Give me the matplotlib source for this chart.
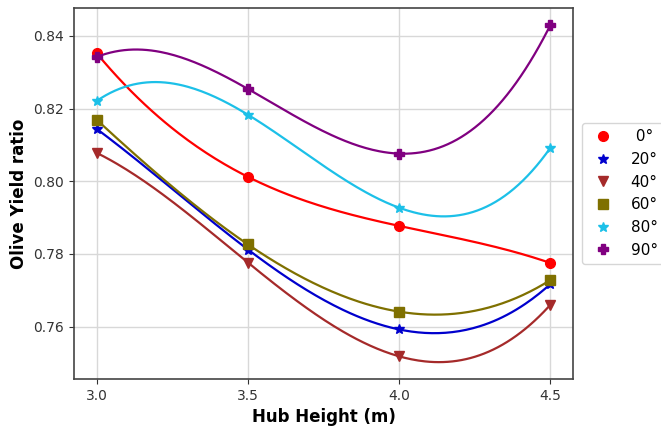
import matplotlib
matplotlib.use('Agg')
import matplotlib.pyplot as plt
import numpy as np

# hub heights (m)
heights = [3.0, 3.5, 4.0, 4.5]

# olive yield ratio per panel tilt angle
yield_0 = [0.8352, 0.8012, 0.7877, 0.7775]
yield_20 = [0.8144, 0.7812, 0.7592, 0.7717]
yield_40 = [0.8078, 0.7776, 0.7518, 0.7660]
yield_60 = [0.8169, 0.7826, 0.7641, 0.7728]
yield_80 = [0.8221, 0.8183, 0.7927, 0.8092]
yield_90 = [0.8342, 0.8254, 0.8076, 0.8430]

labels = [' 0°', '20°', '40°', '60°', '80°', '90°']
series = [yield_0, yield_20, yield_40, yield_60, yield_80, yield_90]
colors = ['#ff0000', '#0000cd', '#a52a2a', '#7f7000', '#1cc0e8', '#800080']
markers = ['o', '*', 'v', 's', '*', 'P']


def smooth(x, y):
    """cubic through the points, like a k=3 spline on 4 knots"""
    coef = np.polyfit(x, y, len(x) - 1)
    xs = np.linspace(min(x), max(x), 200)
    return xs, np.polyval(coef, xs)


fig = plt.figure(figsize=(6.61, 4.28), dpi=100)
ax = fig.add_axes([0.112, 0.1145, 0.755, 0.8665])

for y, lab, c, m in zip(series, labels, colors, markers):
    xs, ys = smooth(heights, y)
    ax.plot(xs, ys, color=c, lw=1.6)
    ax.plot(heights, y, linestyle='', marker=m, color=c, markersize=7, label=lab)

ax.set_xticks([3.0, 3.5, 4.0, 4.5])
ax.set_yticks([0.76, 0.78, 0.80, 0.82, 0.84])
ax.grid(color='#d8d8d8', lw=1.0)
ax.set_axisbelow(True)
for s in ax.spines.values():
    s.set_color('#444444')
    s.set_linewidth(1.2)
ax.tick_params(colors='#333333', labelsize=10)

ax.set_xlabel('Hub Height (m)', fontsize=12, fontweight='bold')
ax.set_ylabel('Olive Yield ratio', fontsize=12, fontweight='bold')

ax.legend(loc='center left', bbox_to_anchor=(1.002, 0.5), fontsize=11)

fig.savefig('out.png', dpi=100)
